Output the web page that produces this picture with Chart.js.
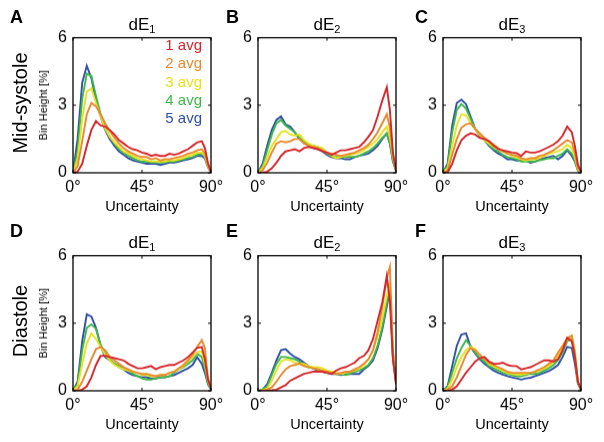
<!DOCTYPE html>
<html><head><meta charset="utf-8">
<script src="https://cdn.jsdelivr.net/npm/chart.js@4"></script>
<style>
body{margin:0;background:#fff;}
#wrap{position:relative;width:604px;height:442px;overflow:hidden;font-family:"Liberation Sans",Arial,Helvetica,sans-serif;background:#fff;}
.cv{position:absolute;}
.lbl{position:absolute;white-space:nowrap;color:#000;line-height:1;}
</style></head><body><div id="wrap"></div>
<script>
// ---- data ----
const angles = [0,3,6,9,12,15,18,21,24,27,30,33,36,39,42,45,48,51,54,57,60,63,66,69,72,75,78,81,84,86,88,90];
const seriesNames = ['1 avg','2 avg','3 avg','4 avg','5 avg'];
const seriesColors = ['#d6262b','#e8892e','#e6e21e','#3fb64a','#2f4fa8'];
const xTickValues = [0,45,90];
const yTickValues = [0,3,6];
const panelLetters = ['A','B','C','D','E','F'];
const titleBase = 'dE';
const titleSubs = ['1','2','3','1','2','3'];
const rowLabels = ['Mid-systole','Diastole'];
const yAxisLabel = 'Bin Height [%]';
const xAxisLabel = 'Uncertainty';

const panelA = [
 [0,0.05,0.4,1.2,1.9,2.3,2.1,2.05,1.9,1.7,1.45,1.3,1.15,1.05,1.0,0.9,0.85,0.75,0.8,0.75,0.75,0.85,0.8,0.85,0.95,1.05,1.2,1.35,1.4,1.1,0.45,0.02],
 [0,0.3,1.4,2.6,3.1,2.95,2.6,2.2,1.85,1.55,1.3,1.1,0.95,0.85,0.75,0.7,0.7,0.6,0.65,0.55,0.6,0.6,0.65,0.7,0.75,0.85,0.9,1.0,1.05,0.85,0.35,0.02],
 [0,0.6,2.4,3.6,3.75,3.1,2.5,1.95,1.6,1.35,1.15,0.95,0.85,0.75,0.65,0.6,0.55,0.5,0.5,0.5,0.5,0.55,0.55,0.6,0.65,0.75,0.8,0.9,0.9,0.75,0.3,0.02],
 [0,1.0,3.3,4.4,4.3,3.4,2.6,2.0,1.6,1.3,1.05,0.9,0.75,0.65,0.55,0.5,0.5,0.45,0.45,0.45,0.45,0.5,0.5,0.55,0.6,0.65,0.7,0.8,0.85,0.7,0.3,0.02],
 [0,1.5,4.0,4.75,4.2,3.2,2.5,1.9,1.5,1.2,0.95,0.8,0.65,0.55,0.5,0.45,0.4,0.4,0.4,0.35,0.4,0.45,0.45,0.5,0.55,0.6,0.65,0.75,0.75,0.65,0.25,0.02]
];
const panelB = [
 [0,0,0.05,0.2,0.45,0.75,0.95,1.0,1.05,0.95,1.1,1.15,1.1,1.05,0.95,0.9,0.8,0.9,1.0,1.0,1.05,1.1,1.15,1.35,1.6,1.9,2.5,3.2,3.8,2.8,0.9,0.1],
 [0,0.1,0.45,0.9,1.3,1.4,1.35,1.4,1.5,1.5,1.3,1.2,1.15,1.1,1.0,0.9,0.85,0.8,0.75,0.8,0.85,0.9,1.0,1.1,1.25,1.5,1.8,2.2,2.6,2.0,0.8,0.15],
 [0,0.2,0.7,1.2,1.5,1.8,1.85,1.7,1.65,1.7,1.45,1.3,1.2,1.15,1.1,0.9,0.75,0.65,0.7,0.75,0.8,0.85,0.9,1.0,1.15,1.3,1.5,1.8,2.05,1.6,0.7,0.15],
 [0,0.3,1.0,1.7,2.2,2.35,2.1,1.95,1.8,1.55,1.35,1.25,1.2,1.15,1.0,0.85,0.75,0.7,0.7,0.7,0.7,0.7,0.75,0.85,0.95,1.1,1.3,1.55,1.75,1.3,0.5,0.1],
 [0,0.4,1.2,1.9,2.35,2.5,2.15,2.05,1.8,1.5,1.35,1.2,1.1,1.05,0.95,0.8,0.7,0.65,0.65,0.6,0.6,0.7,0.75,0.8,0.85,1.0,1.2,1.5,1.75,1.3,0.5,0.1]
];
const panelC = [
 [0,0.02,0.4,1.0,1.45,1.65,1.75,1.7,1.55,1.5,1.4,1.2,1.05,1.0,0.95,0.9,0.87,0.75,0.95,0.9,0.9,0.95,1.05,1.15,1.25,1.4,1.65,2.05,1.8,1.2,0.36,0.05],
 [0,0.1,0.8,1.5,2.0,2.15,2.2,1.95,1.75,1.55,1.4,1.25,1.1,0.95,0.85,0.8,0.75,0.65,0.6,0.65,0.65,0.75,0.8,0.9,1.0,1.15,1.3,1.45,1.35,0.9,0.2,0.05],
 [0,0.2,1.2,2.1,2.6,2.55,2.2,1.95,1.7,1.45,1.3,1.15,1.05,0.95,0.85,0.75,0.7,0.6,0.55,0.6,0.6,0.65,0.75,0.85,0.9,0.95,1.05,1.25,1.1,0.7,0.15,0.05],
 [0,0.3,1.8,2.8,3.05,2.85,2.4,1.95,1.65,1.45,1.25,1.05,0.95,0.8,0.7,0.65,0.6,0.5,0.5,0.5,0.5,0.55,0.6,0.65,0.65,0.75,0.85,1.05,0.85,0.55,0.1,0.05],
 [0,0.4,2.1,3.1,3.25,3.05,2.5,1.95,1.7,1.45,1.2,1.0,0.85,0.75,0.6,0.6,0.55,0.55,0.55,0.45,0.5,0.6,0.65,0.7,0.75,0.6,0.75,1.0,0.75,0.5,0.1,0.05]
];
const panelD = [
 [0,0,0.05,0.2,0.6,1.15,1.55,1.55,1.5,1.45,1.4,1.35,1.2,1.1,1.0,1.0,1.05,1.1,0.95,1.05,1.1,1.15,1.15,1.25,1.35,1.5,1.7,1.9,1.95,1.4,0.5,0.1],
 [0,0.05,0.4,0.9,1.4,1.85,1.95,1.8,1.5,1.35,1.2,1.05,0.95,0.85,0.8,0.75,0.75,0.7,0.65,0.7,0.7,0.8,0.85,1.0,1.15,1.35,1.6,1.95,2.25,1.9,0.6,0.1],
 [0,0.2,1.2,2.1,2.55,2.3,1.95,1.6,1.35,1.15,1.05,0.95,0.9,0.85,0.8,0.7,0.7,0.65,0.65,0.7,0.7,0.8,0.85,0.95,1.1,1.3,1.5,1.7,1.75,1.2,0.45,0.1],
 [0,0.3,1.8,2.8,2.95,2.75,2.05,1.65,1.4,1.2,1.1,1.0,0.9,0.75,0.65,0.55,0.5,0.5,0.55,0.6,0.6,0.65,0.8,0.95,1.05,1.2,1.35,1.65,1.5,1.0,0.35,0.05],
 [0,0.4,2.2,3.4,3.3,2.8,2.0,1.5,1.35,1.2,1.05,0.95,0.8,0.7,0.65,0.6,0.6,0.55,0.55,0.6,0.6,0.65,0.7,0.8,0.9,1.0,1.15,1.5,1.2,0.8,0.3,0.05]
];
const panelE = [
 [0,0,0,0.02,0.05,0.15,0.25,0.45,0.55,0.65,0.75,0.8,0.85,0.85,0.85,0.8,0.75,0.9,1.0,1.05,1.15,1.25,1.45,1.55,1.8,2.3,3.1,3.9,5.1,4.0,1.4,0.3],
 [0,0,0.05,0.15,0.4,0.7,0.95,1.1,1.15,1.2,1.1,1.05,1.0,0.95,0.9,0.85,0.8,0.75,0.8,0.85,0.85,0.95,1.05,1.2,1.4,1.8,2.6,3.7,5.0,5.5,1.8,0.3],
 [0,0.02,0.1,0.45,0.9,1.3,1.4,1.35,1.25,1.2,1.2,1.1,1.05,1.05,1.0,0.9,0.85,0.8,0.75,0.8,0.85,0.9,1.0,1.15,1.4,1.8,2.4,3.2,4.2,4.7,1.8,0.35],
 [0,0.05,0.2,0.7,1.2,1.5,1.5,1.45,1.4,1.3,1.15,1.05,1.0,0.95,0.85,0.8,0.8,0.75,0.75,0.7,0.75,0.85,0.9,1.0,1.15,1.45,2.0,2.8,3.9,4.6,1.4,0.4],
 [0,0.05,0.3,0.8,1.35,1.8,1.85,1.65,1.5,1.4,1.25,1.1,1.0,0.9,0.85,0.8,0.75,0.75,0.7,0.75,0.75,0.75,0.75,0.95,1.1,1.35,1.9,2.7,3.75,4.45,1.5,0.4]
];
const panelF = [
 [0,0,0.05,0.2,0.5,0.8,1.05,1.3,1.45,1.5,1.3,1.2,1.2,1.25,1.15,1.1,1.1,0.95,1.0,1.05,1.15,1.25,1.35,1.35,1.3,1.4,1.8,2.35,2.2,1.5,0.4,0.05],
 [0,0.05,0.2,0.6,1.1,1.6,1.9,1.8,1.6,1.4,1.25,1.15,1.05,0.95,0.85,0.8,0.8,0.8,0.8,0.8,0.85,0.95,1.05,1.2,1.35,1.7,2.0,2.35,2.45,1.7,0.4,0.05],
 [0,0.1,0.5,1.05,1.5,1.8,1.95,1.85,1.6,1.4,1.2,1.1,1.0,0.9,0.8,0.75,0.72,0.72,0.75,0.8,0.85,0.9,1.0,1.1,1.3,1.55,1.9,2.25,2.45,1.8,0.4,0.05],
 [0,0.15,0.8,1.45,1.9,2.25,2.0,1.7,1.45,1.3,1.1,1.0,0.9,0.8,0.75,0.7,0.65,0.65,0.7,0.75,0.75,0.8,0.9,1.0,1.15,1.35,1.7,2.2,2.3,1.5,0.35,0.05],
 [0,0.2,1.1,2.0,2.5,2.55,1.95,1.65,1.4,1.2,1.05,0.9,0.8,0.72,0.65,0.6,0.55,0.5,0.55,0.58,0.65,0.72,0.8,0.87,1.0,1.15,1.5,1.95,1.9,1.2,0.3,0.05]
];
const panels = [panelA, panelB, panelC, panelD, panelE, panelF];

// ---- layout ----
const plotLefts = [73, 258, 443];
const plotTops = [34, 252];
const plotW = 138, plotH = 138.5;
const FONT = '"Liberation Sans", Arial, Helvetica, sans-serif';
const wrap = document.getElementById('wrap');

function addLabel(html, css) {
  const d = document.createElement('div');
  d.className = 'lbl';
  d.innerHTML = html;
  Object.assign(d.style, css);
  wrap.appendChild(d);
  return d;
}

const framePlugin = {
  id: 'frame',
  afterDatasetsDraw(chart) {
    const {ctx, chartArea: a, scales: {x, y}} = chart;
    ctx.save();
    ctx.strokeStyle = '#000';
    ctx.lineWidth = 1.3;
    ctx.strokeRect(a.left, a.top, a.right - a.left, a.bottom - a.top);
    ctx.lineWidth = 1;
    ctx.beginPath();
    x.ticks.forEach(t => {
      const px = x.getPixelForValue(t.value);
      ctx.moveTo(px, a.bottom); ctx.lineTo(px, a.bottom - 3);
      ctx.moveTo(px, a.top); ctx.lineTo(px, a.top + 3);
    });
    y.ticks.forEach(t => {
      const py = y.getPixelForValue(t.value);
      ctx.moveTo(a.left, py); ctx.lineTo(a.left + 3, py);
      ctx.moveTo(a.right, py); ctx.lineTo(a.right - 3, py);
    });
    ctx.stroke();
    ctx.restore();
  }
};

panels.forEach((series, idx) => {
  const r = Math.floor(idx / 3), c = idx % 3;
  const yW = c === 0 ? 73 : 36;
  const padTop = 12, padRight = 20, xH = 46;
  const left = plotLefts[c] - yW, top = plotTops[r] - padTop;
  const cw = yW + plotW + padRight, ch = padTop + plotH + xH;
  const cv = document.createElement('canvas');
  cv.className = 'cv';
  cv.width = cw; cv.height = ch;
  cv.style.left = left + 'px'; cv.style.top = top + 'px';
  cv.style.width = cw + 'px'; cv.style.height = ch + 'px';
  wrap.appendChild(cv);

  new Chart(cv, {
    type: 'line',
    data: {
      datasets: series.map((vals, i) => ({
        label: seriesNames[i],
        data: angles.map((a, k) => ({x: a, y: vals[k]})),
        borderColor: seriesColors[i],
        borderWidth: 1.9,
        pointRadius: 0,
        tension: 0,
        fill: false
      }))
    },
    options: {
      responsive: false,
      devicePixelRatio: 1,
      animation: false,
      layout: {padding: {top: padTop, right: padRight, left: 0, bottom: 0}},
      plugins: {legend: {display: false}, tooltip: {enabled: false}},
      scales: {
        x: {
          type: 'linear', min: 0, max: 90,
          afterFit(s) { s.height = xH; },
          afterBuildTicks(s) { s.ticks = xTickValues.map(v => ({value: v})); },
          ticks: {callback: v => v + '°', font: {family: FONT, size: 16}, color: '#000', padding: 5, maxRotation: 0},
          grid: {display: false, drawTicks: false},
          border: {display: false},
          title: {display: true, text: xAxisLabel, font: {family: FONT, size: 14.5}, color: '#000', padding: {top: 0, bottom: 3}}
        },
        y: {
          min: 0, max: 6,
          afterFit(s) { s.width = yW; },
          afterBuildTicks(s) { s.ticks = yTickValues.map(v => ({value: v})); },
          ticks: {font: {family: FONT, size: 16}, color: '#000', padding: 6},
          grid: {display: false, drawTicks: false},
          border: {display: false},
          title: {display: c === 0, text: yAxisLabel, font: {family: FONT, size: 11}, color: '#000', padding: {top: 37, bottom: 0}}
        }
      }
    },
    plugins: [framePlugin]
  });

  // panel letter
  addLabel(panelLetters[idx], {left: [10, 226, 415][c] + 'px', top: (r === 0 ? 8 : 222) + 'px', fontSize: '18px', fontWeight: 'bold'});
  // title
  const cx = plotLefts[c] + plotW / 2;
  addLabel(titleBase + '<span style="font-size:11px;position:relative;top:3px">' + titleSubs[idx] + '</span>',
    {left: cx + 'px', top: (plotTops[r] - 18) + 'px', fontSize: '17px', transform: 'translateX(-50%)'});
});

// row labels
rowLabels.forEach((txt, r) => {
  addLabel(txt, {left: '20px', top: (plotTops[r] + plotH / 2) + 'px', fontSize: '20px', transform: 'translate(-50%,-50%) rotate(-90deg)'});
});

// legend (panel A)
addLabel(seriesNames.map((n, i) => '<div style="color:' + seriesColors[i] + '">' + n + '</div>').join(''),
  {left: '150px', width: '52px', top: '36px', fontSize: '15px', lineHeight: '18.3px', textAlign: 'right'});
</script>
</body></html>
